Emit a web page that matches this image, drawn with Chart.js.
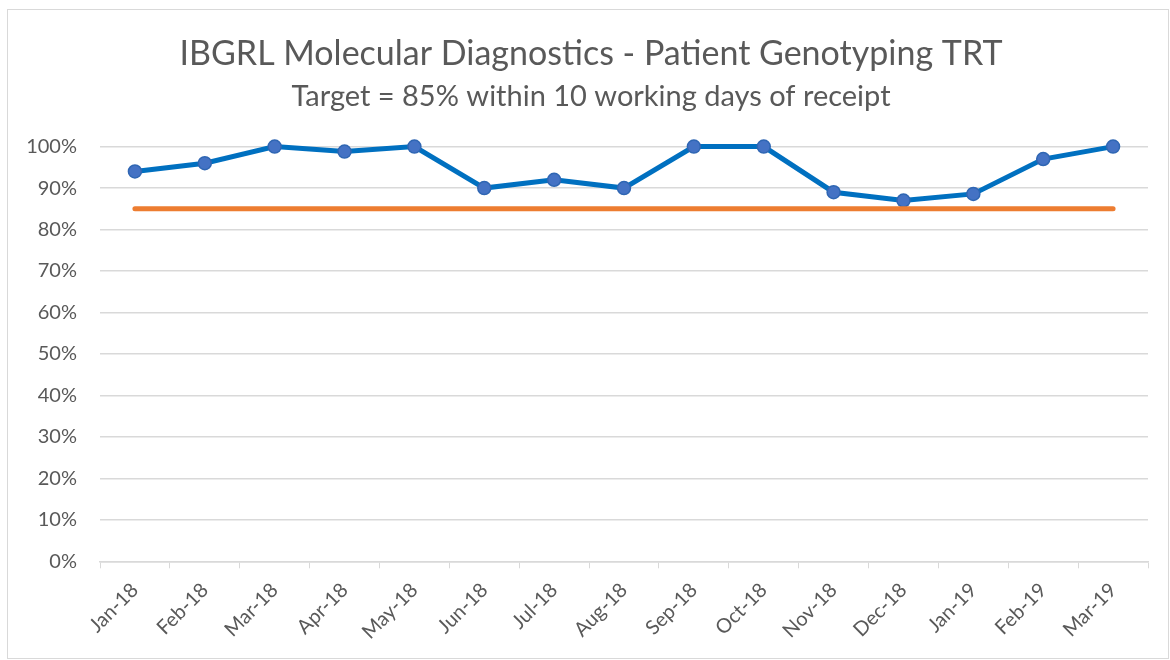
<!DOCTYPE html>
<html>
<head>
<meta charset="utf-8">
<script src="https://cdn.jsdelivr.net/npm/chart.js@4.4.1/dist/chart.umd.min.js"></script>
<style>
  html, body { margin: 0; padding: 0; background: #fff; }
  #wrap {
    position: absolute; left: 7px; top: 9px;
    width: 1162px; height: 650px;
    border: 1px solid #d9d9d9; box-sizing: border-box;
  }
</style>
</head>
<body>
<div id="wrap"><canvas id="trt"></canvas></div>
<script>
  // Monate (Kategorien)
  const months = ['Jan-18', 'Feb-18', 'Mar-18', 'Apr-18', 'May-18', 'Jun-18', 'Jul-18',
    'Aug-18', 'Sep-18', 'Oct-18', 'Nov-18', 'Dec-18', 'Jan-19', 'Feb-19', 'Mar-19'];

  // Anteil innerhalb von 10 Arbeitstagen (%)
  const withinTarget = [94, 96, 100, 98.8, 100, 90, 92, 90, 100, 100, 89, 87, 88.6, 97, 100];

  // Zielwert 85 %
  const targetLine = [85, 85, 85, 85, 85, 85, 85, 85, 85, 85, 85, 85, 85, 85, 85];

  const GRAY = '#595959';
  const GRID = '#d9d9d9';
  const FONT = 'Lato, "Open Sans", sans-serif';

  // Titel + Untertitel über die ganze Breite zentrieren
  const centerTitles = {
    id: 'centerTitles',
    afterLayout(chart) {
      chart.boxes.forEach(b => {
        if (b.options && b.options.text !== undefined) {
          b.left = 3;
          b.right = chart.width + 3;
          b.width = chart.width;
        }
      });
    }
  };

  new Chart(document.getElementById('trt'), {
    type: 'line',
    data: {
      labels: months,
      datasets: [
        {
          label: 'Target',
          data: targetLine,
          borderColor: '#ED7D31',
          borderWidth: 5,
          borderCapStyle: 'round',
          pointRadius: 0,
          order: 0
        },
        {
          label: 'TRT',
          data: withinTarget,
          borderColor: '#0070C0',
          borderWidth: 5,
          pointRadius: 6.5,
          pointBackgroundColor: '#4472C4',
          pointBorderColor: '#2F66B3',
          pointBorderWidth: 1.5,
          clip: false,
          order: 1
        }
      ]
    },
    options: {
      responsive: true,
      maintainAspectRatio: false,
      animation: false,
      layout: { padding: { left: 20, right: 20, top: 12, bottom: 4 } },
      plugins: {
        legend: { display: false },
        tooltip: { enabled: false },
        title: {
          display: true,
          text: 'IBGRL Molecular Diagnostics - Patient Genotyping TRT',
          color: GRAY,
          font: { family: FONT, size: 34, weight: 'normal' },
          padding: { top: 12, bottom: 1 }
        },
        subtitle: {
          display: true,
          text: 'Target = 85% within 10 working days of receipt',
          color: GRAY,
          font: { family: FONT, size: 29, weight: 'normal' },
          padding: { top: 3, bottom: 33 }
        }
      },
      scales: {
        x: {
          offset: true,
          grid: {
            offset: true,
            drawOnChartArea: false,
            drawTicks: true,
            tickLength: 7,
            color: GRID
          },
          border: { color: GRID, width: 1.5 },
          ticks: {
            color: GRAY,
            font: { family: FONT, size: 20 },
            maxRotation: 45,
            minRotation: 45,
            autoSkip: false,
            padding: 10
          }
        },
        y: {
          min: 0,
          max: 100,
          afterFit: (scale) => { scale.width = 72; },
          grid: { color: GRID, lineWidth: 1.5, drawTicks: false },
          border: { display: false },
          ticks: {
            stepSize: 10,
            color: GRAY,
            font: { family: FONT, size: 20 },
            padding: 23,
            callback: v => v + '%'
          }
        }
      }
    },
    plugins: [centerTitles]
  });
</script>
</body>
</html>
